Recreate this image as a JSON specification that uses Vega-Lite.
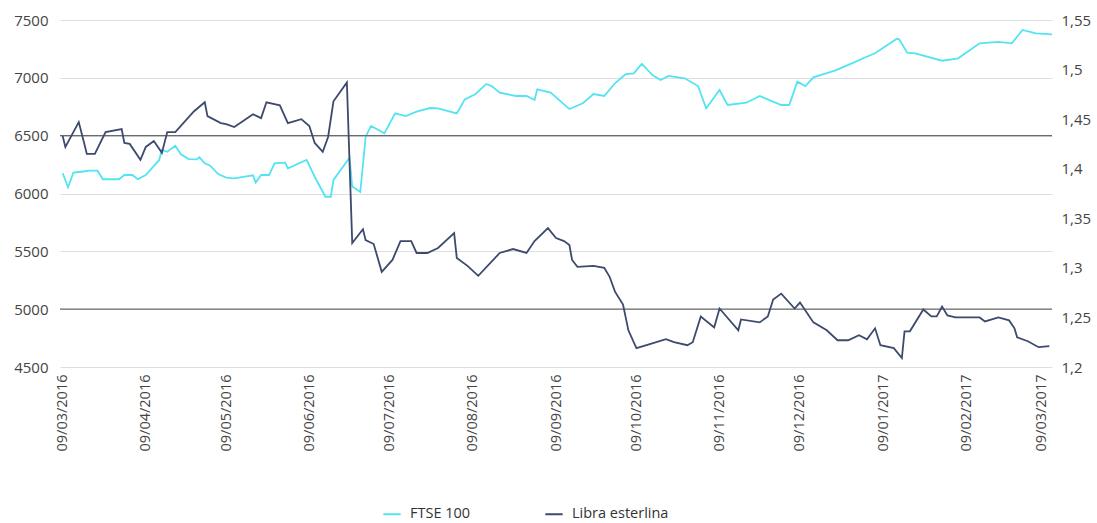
{
  "$schema": "https://vega.github.io/schema/vega-lite/v6.json",
  "width": 992,
  "height": 347,
  "autosize": {"type": "none"},
  "padding": {"left": 60, "top": 20, "right": 45, "bottom": 156},
  "background": "white",
  "config": {
    "font": "Open Sans",
    "view": {"stroke": null},
    "axis": {"labelFont": "Open Sans", "labelColor": "#444444", "domain": false, "ticks": false}
  },
  "datasets": {
    "series": [
      {"d":"2016-03-09","s":"FTSE 100","v":6175},
      {"d":"2016-03-11","s":"FTSE 100","v":6054},
      {"d":"2016-03-13","s":"FTSE 100","v":6180},
      {"d":"2016-03-16","s":"FTSE 100","v":6188},
      {"d":"2016-03-19","s":"FTSE 100","v":6197},
      {"d":"2016-03-22","s":"FTSE 100","v":6197},
      {"d":"2016-03-24","s":"FTSE 100","v":6123},
      {"d":"2016-03-30","s":"FTSE 100","v":6123},
      {"d":"2016-04-01","s":"FTSE 100","v":6160},
      {"d":"2016-04-04","s":"FTSE 100","v":6160},
      {"d":"2016-04-06","s":"FTSE 100","v":6123},
      {"d":"2016-04-09","s":"FTSE 100","v":6160},
      {"d":"2016-04-14","s":"FTSE 100","v":6290},
      {"d":"2016-04-15","s":"FTSE 100","v":6376},
      {"d":"2016-04-17","s":"FTSE 100","v":6361},
      {"d":"2016-04-20","s":"FTSE 100","v":6413},
      {"d":"2016-04-22","s":"FTSE 100","v":6341},
      {"d":"2016-04-25","s":"FTSE 100","v":6298},
      {"d":"2016-04-28","s":"FTSE 100","v":6295},
      {"d":"2016-04-29","s":"FTSE 100","v":6313},
      {"d":"2016-05-01","s":"FTSE 100","v":6261},
      {"d":"2016-05-03","s":"FTSE 100","v":6240},
      {"d":"2016-05-06","s":"FTSE 100","v":6168},
      {"d":"2016-05-09","s":"FTSE 100","v":6137},
      {"d":"2016-05-12","s":"FTSE 100","v":6131},
      {"d":"2016-05-16","s":"FTSE 100","v":6145},
      {"d":"2016-05-19","s":"FTSE 100","v":6157},
      {"d":"2016-05-20","s":"FTSE 100","v":6094},
      {"d":"2016-05-22","s":"FTSE 100","v":6160},
      {"d":"2016-05-25","s":"FTSE 100","v":6160},
      {"d":"2016-05-27","s":"FTSE 100","v":6261},
      {"d":"2016-05-31","s":"FTSE 100","v":6267},
      {"d":"2016-06-01","s":"FTSE 100","v":6218},
      {"d":"2016-06-08","s":"FTSE 100","v":6290},
      {"d":"2016-06-11","s":"FTSE 100","v":6145},
      {"d":"2016-06-15","s":"FTSE 100","v":5972},
      {"d":"2016-06-17","s":"FTSE 100","v":5972},
      {"d":"2016-06-18","s":"FTSE 100","v":6117},
      {"d":"2016-06-24","s":"FTSE 100","v":6310},
      {"d":"2016-06-25","s":"FTSE 100","v":6060},
      {"d":"2016-06-28","s":"FTSE 100","v":6013},
      {"d":"2016-06-30","s":"FTSE 100","v":6491},
      {"d":"2016-07-02","s":"FTSE 100","v":6584},
      {"d":"2016-07-07","s":"FTSE 100","v":6520},
      {"d":"2016-07-11","s":"FTSE 100","v":6693},
      {"d":"2016-07-15","s":"FTSE 100","v":6670},
      {"d":"2016-07-19","s":"FTSE 100","v":6707},
      {"d":"2016-07-24","s":"FTSE 100","v":6739},
      {"d":"2016-07-27","s":"FTSE 100","v":6736},
      {"d":"2016-08-03","s":"FTSE 100","v":6693},
      {"d":"2016-08-06","s":"FTSE 100","v":6814},
      {"d":"2016-08-10","s":"FTSE 100","v":6860},
      {"d":"2016-08-14","s":"FTSE 100","v":6947},
      {"d":"2016-08-16","s":"FTSE 100","v":6929},
      {"d":"2016-08-19","s":"FTSE 100","v":6872},
      {"d":"2016-08-25","s":"FTSE 100","v":6843},
      {"d":"2016-08-29","s":"FTSE 100","v":6843},
      {"d":"2016-09-01","s":"FTSE 100","v":6808},
      {"d":"2016-09-02","s":"FTSE 100","v":6901},
      {"d":"2016-09-07","s":"FTSE 100","v":6872},
      {"d":"2016-09-14","s":"FTSE 100","v":6730},
      {"d":"2016-09-19","s":"FTSE 100","v":6780},
      {"d":"2016-09-23","s":"FTSE 100","v":6860},
      {"d":"2016-09-27","s":"FTSE 100","v":6843},
      {"d":"2016-10-01","s":"FTSE 100","v":6953},
      {"d":"2016-10-05","s":"FTSE 100","v":7033},
      {"d":"2016-10-08","s":"FTSE 100","v":7039},
      {"d":"2016-10-11","s":"FTSE 100","v":7120},
      {"d":"2016-10-15","s":"FTSE 100","v":7024},
      {"d":"2016-10-18","s":"FTSE 100","v":6981},
      {"d":"2016-10-21","s":"FTSE 100","v":7016},
      {"d":"2016-10-27","s":"FTSE 100","v":6996},
      {"d":"2016-11-01","s":"FTSE 100","v":6929},
      {"d":"2016-11-04","s":"FTSE 100","v":6736},
      {"d":"2016-11-09","s":"FTSE 100","v":6895},
      {"d":"2016-11-12","s":"FTSE 100","v":6765},
      {"d":"2016-11-19","s":"FTSE 100","v":6785},
      {"d":"2016-11-24","s":"FTSE 100","v":6843},
      {"d":"2016-12-02","s":"FTSE 100","v":6765},
      {"d":"2016-12-05","s":"FTSE 100","v":6765},
      {"d":"2016-12-08","s":"FTSE 100","v":6967},
      {"d":"2016-12-11","s":"FTSE 100","v":6929},
      {"d":"2016-12-14","s":"FTSE 100","v":7004},
      {"d":"2016-12-22","s":"FTSE 100","v":7062},
      {"d":"2016-12-29","s":"FTSE 100","v":7131},
      {"d":"2017-01-02","s":"FTSE 100","v":7174},
      {"d":"2017-01-06","s":"FTSE 100","v":7212},
      {"d":"2017-01-14","s":"FTSE 100","v":7336},
      {"d":"2017-01-15","s":"FTSE 100","v":7333},
      {"d":"2017-01-18","s":"FTSE 100","v":7217},
      {"d":"2017-01-21","s":"FTSE 100","v":7212},
      {"d":"2017-01-31","s":"FTSE 100","v":7148},
      {"d":"2017-02-06","s":"FTSE 100","v":7169},
      {"d":"2017-02-14","s":"FTSE 100","v":7298},
      {"d":"2017-02-21","s":"FTSE 100","v":7310},
      {"d":"2017-02-26","s":"FTSE 100","v":7298},
      {"d":"2017-03-02","s":"FTSE 100","v":7414},
      {"d":"2017-03-07","s":"FTSE 100","v":7385},
      {"d":"2017-03-13","s":"FTSE 100","v":7376},

      {"d":"2016-03-09","s":"Libra esterlina","v":1.433},
      {"d":"2016-03-10","s":"Libra esterlina","v":1.422},
      {"d":"2016-03-15","s":"Libra esterlina","v":1.447},
      {"d":"2016-03-17","s":"Libra esterlina","v":1.426},
      {"d":"2016-03-18","s":"Libra esterlina","v":1.415},
      {"d":"2016-03-21","s":"Libra esterlina","v":1.415},
      {"d":"2016-03-25","s":"Libra esterlina","v":1.437},
      {"d":"2016-03-31","s":"Libra esterlina","v":1.440},
      {"d":"2016-04-01","s":"Libra esterlina","v":1.426},
      {"d":"2016-04-03","s":"Libra esterlina","v":1.425},
      {"d":"2016-04-07","s":"Libra esterlina","v":1.409},
      {"d":"2016-04-09","s":"Libra esterlina","v":1.422},
      {"d":"2016-04-12","s":"Libra esterlina","v":1.428},
      {"d":"2016-04-15","s":"Libra esterlina","v":1.416},
      {"d":"2016-04-17","s":"Libra esterlina","v":1.437},
      {"d":"2016-04-20","s":"Libra esterlina","v":1.437},
      {"d":"2016-04-27","s":"Libra esterlina","v":1.458},
      {"d":"2016-05-01","s":"Libra esterlina","v":1.467},
      {"d":"2016-05-02","s":"Libra esterlina","v":1.453},
      {"d":"2016-05-07","s":"Libra esterlina","v":1.446},
      {"d":"2016-05-09","s":"Libra esterlina","v":1.445},
      {"d":"2016-05-12","s":"Libra esterlina","v":1.442},
      {"d":"2016-05-19","s":"Libra esterlina","v":1.455},
      {"d":"2016-05-22","s":"Libra esterlina","v":1.451},
      {"d":"2016-05-24","s":"Libra esterlina","v":1.467},
      {"d":"2016-05-29","s":"Libra esterlina","v":1.464},
      {"d":"2016-06-01","s":"Libra esterlina","v":1.446},
      {"d":"2016-06-06","s":"Libra esterlina","v":1.450},
      {"d":"2016-06-09","s":"Libra esterlina","v":1.443},
      {"d":"2016-06-11","s":"Libra esterlina","v":1.426},
      {"d":"2016-06-14","s":"Libra esterlina","v":1.417},
      {"d":"2016-06-16","s":"Libra esterlina","v":1.432},
      {"d":"2016-06-18","s":"Libra esterlina","v":1.468},
      {"d":"2016-06-23","s":"Libra esterlina","v":1.487},
      {"d":"2016-06-25","s":"Libra esterlina","v":1.325},
      {"d":"2016-06-29","s":"Libra esterlina","v":1.339},
      {"d":"2016-06-30","s":"Libra esterlina","v":1.328},
      {"d":"2016-07-03","s":"Libra esterlina","v":1.324},
      {"d":"2016-07-06","s":"Libra esterlina","v":1.296},
      {"d":"2016-07-10","s":"Libra esterlina","v":1.308},
      {"d":"2016-07-13","s":"Libra esterlina","v":1.327},
      {"d":"2016-07-17","s":"Libra esterlina","v":1.327},
      {"d":"2016-07-19","s":"Libra esterlina","v":1.315},
      {"d":"2016-07-23","s":"Libra esterlina","v":1.315},
      {"d":"2016-07-27","s":"Libra esterlina","v":1.320},
      {"d":"2016-08-02","s":"Libra esterlina","v":1.335},
      {"d":"2016-08-03","s":"Libra esterlina","v":1.310},
      {"d":"2016-08-07","s":"Libra esterlina","v":1.302},
      {"d":"2016-08-11","s":"Libra esterlina","v":1.292},
      {"d":"2016-08-19","s":"Libra esterlina","v":1.315},
      {"d":"2016-08-24","s":"Libra esterlina","v":1.319},
      {"d":"2016-08-29","s":"Libra esterlina","v":1.315},
      {"d":"2016-09-01","s":"Libra esterlina","v":1.327},
      {"d":"2016-09-06","s":"Libra esterlina","v":1.340},
      {"d":"2016-09-09","s":"Libra esterlina","v":1.330},
      {"d":"2016-09-12","s":"Libra esterlina","v":1.327},
      {"d":"2016-09-14","s":"Libra esterlina","v":1.323},
      {"d":"2016-09-15","s":"Libra esterlina","v":1.308},
      {"d":"2016-09-17","s":"Libra esterlina","v":1.301},
      {"d":"2016-09-23","s":"Libra esterlina","v":1.302},
      {"d":"2016-09-27","s":"Libra esterlina","v":1.300},
      {"d":"2016-09-29","s":"Libra esterlina","v":1.291},
      {"d":"2016-10-01","s":"Libra esterlina","v":1.276},
      {"d":"2016-10-04","s":"Libra esterlina","v":1.263},
      {"d":"2016-10-06","s":"Libra esterlina","v":1.237},
      {"d":"2016-10-09","s":"Libra esterlina","v":1.219},
      {"d":"2016-10-14","s":"Libra esterlina","v":1.223},
      {"d":"2016-10-20","s":"Libra esterlina","v":1.228},
      {"d":"2016-10-23","s":"Libra esterlina","v":1.225},
      {"d":"2016-10-28","s":"Libra esterlina","v":1.222},
      {"d":"2016-10-30","s":"Libra esterlina","v":1.225},
      {"d":"2016-11-02","s":"Libra esterlina","v":1.251},
      {"d":"2016-11-07","s":"Libra esterlina","v":1.240},
      {"d":"2016-11-09","s":"Libra esterlina","v":1.259},
      {"d":"2016-11-16","s":"Libra esterlina","v":1.237},
      {"d":"2016-11-17","s":"Libra esterlina","v":1.248},
      {"d":"2016-11-24","s":"Libra esterlina","v":1.245},
      {"d":"2016-11-27","s":"Libra esterlina","v":1.251},
      {"d":"2016-11-29","s":"Libra esterlina","v":1.268},
      {"d":"2016-12-02","s":"Libra esterlina","v":1.274},
      {"d":"2016-12-07","s":"Libra esterlina","v":1.259},
      {"d":"2016-12-09","s":"Libra esterlina","v":1.265},
      {"d":"2016-12-14","s":"Libra esterlina","v":1.245},
      {"d":"2016-12-19","s":"Libra esterlina","v":1.237},
      {"d":"2016-12-23","s":"Libra esterlina","v":1.227},
      {"d":"2016-12-27","s":"Libra esterlina","v":1.227},
      {"d":"2016-12-31","s":"Libra esterlina","v":1.232},
      {"d":"2017-01-03","s":"Libra esterlina","v":1.228},
      {"d":"2017-01-06","s":"Libra esterlina","v":1.239},
      {"d":"2017-01-08","s":"Libra esterlina","v":1.222},
      {"d":"2017-01-13","s":"Libra esterlina","v":1.219},
      {"d":"2017-01-16","s":"Libra esterlina","v":1.209},
      {"d":"2017-01-17","s":"Libra esterlina","v":1.236},
      {"d":"2017-01-19","s":"Libra esterlina","v":1.236},
      {"d":"2017-01-24","s":"Libra esterlina","v":1.258},
      {"d":"2017-01-27","s":"Libra esterlina","v":1.251},
      {"d":"2017-01-29","s":"Libra esterlina","v":1.251},
      {"d":"2017-01-31","s":"Libra esterlina","v":1.261},
      {"d":"2017-02-02","s":"Libra esterlina","v":1.252},
      {"d":"2017-02-05","s":"Libra esterlina","v":1.250},
      {"d":"2017-02-14","s":"Libra esterlina","v":1.250},
      {"d":"2017-02-16","s":"Libra esterlina","v":1.246},
      {"d":"2017-02-21","s":"Libra esterlina","v":1.250},
      {"d":"2017-02-25","s":"Libra esterlina","v":1.247},
      {"d":"2017-02-27","s":"Libra esterlina","v":1.239},
      {"d":"2017-02-28","s":"Libra esterlina","v":1.230},
      {"d":"2017-03-04","s":"Libra esterlina","v":1.226},
      {"d":"2017-03-08","s":"Libra esterlina","v":1.220},
      {"d":"2017-03-12","s":"Libra esterlina","v":1.221}
    ],
    "refs": [{"r": 6500}, {"r": 5000}]
  },
  "layer": [
    {
      "data": {"name": "series"},
      "transform": [{"filter": "datum.s === 'FTSE 100'"}],
      "mark": {"type": "line", "strokeWidth": 1.8, "interpolate": "linear"},
      "encoding": {
        "x": {
          "field": "d",
          "type": "temporal",
          "scale": {"type": "utc", "domain": [{"year": 2016, "month": 3, "date": 8, "utc": true}, {"year": 2017, "month": 3, "date": 13, "utc": true}]},
          "axis": {
            "title": null,
            "format": "%d/%m/%Y",
            "labelAngle": -90,
            "labelFontSize": 14.5,
            "labelPadding": 7,
            "grid": false,
            "values": [
              {"year": 2016, "month": 3, "date": 9, "utc": true},
              {"year": 2016, "month": 4, "date": 9, "utc": true},
              {"year": 2016, "month": 5, "date": 9, "utc": true},
              {"year": 2016, "month": 6, "date": 9, "utc": true},
              {"year": 2016, "month": 7, "date": 9, "utc": true},
              {"year": 2016, "month": 8, "date": 9, "utc": true},
              {"year": 2016, "month": 9, "date": 9, "utc": true},
              {"year": 2016, "month": 10, "date": 9, "utc": true},
              {"year": 2016, "month": 11, "date": 9, "utc": true},
              {"year": 2016, "month": 12, "date": 9, "utc": true},
              {"year": 2017, "month": 1, "date": 9, "utc": true},
              {"year": 2017, "month": 2, "date": 9, "utc": true},
              {"year": 2017, "month": 3, "date": 9, "utc": true}
            ]
          }
        },
        "y": {
          "field": "v",
          "type": "quantitative",
          "scale": {"domain": [4500, 7500], "zero": false, "nice": false},
          "axis": {
            "orient": "left",
            "title": null,
            "values": [4500, 5000, 5500, 6000, 6500, 7000, 7500],
            "format": "d",
            "labelFontSize": 15,
            "labelPadding": 12,
            "grid": true,
            "gridColor": "#dedede",
            "gridWidth": 1.2
          }
        },
        "color": {
          "field": "s",
          "type": "nominal",
          "scale": {"domain": ["FTSE 100", "Libra esterlina"], "range": ["#52E4F2", "#3D4A6E"]},
          "legend": {
            "title": null,
            "orient": "none",
            "direction": "horizontal",
            "legendX": 322,
            "legendY": 484,
            "symbolType": "stroke",
            "symbolStrokeWidth": 2,
            "symbolSize": 300,
            "labelFontSize": 14.5,
            "labelColor": "#333333",
            "labelFont": "Open Sans",
            "columnPadding": 70,
            "labelOffset": 8
          }
        }
      }
    },
    {
      "data": {"name": "refs"},
      "mark": {"type": "rule", "color": "#6b6b6b", "strokeWidth": 1.3},
      "encoding": {
        "y": {"field": "r", "type": "quantitative", "scale": {"domain": [4500, 7500], "zero": false, "nice": false}, "axis": null}
      }
    },
    {
      "data": {"name": "series"},
      "transform": [{"filter": "datum.s === 'Libra esterlina'"}],
      "mark": {"type": "line", "strokeWidth": 1.8, "interpolate": "linear"},
      "encoding": {
        "x": {"field": "d", "type": "temporal"},
        "y": {
          "field": "v",
          "type": "quantitative",
          "scale": {"domain": [1.2, 1.55], "zero": false, "nice": false},
          "axis": {
            "orient": "right",
            "title": null,
            "values": [1.2, 1.25, 1.3, 1.35, 1.4, 1.45, 1.5, 1.55],
            "labelExpr": "replace(format(datum.value, '.2~f'), '.', ',')",
            "labelFontSize": 15,
            "labelPadding": 9,
            "grid": false
          }
        },
        "color": {"field": "s", "type": "nominal", "scale": {"domain": ["FTSE 100", "Libra esterlina"], "range": ["#52E4F2", "#3D4A6E"]}}
      }
    }
  ],
  "resolve": {"scale": {"y": "independent"}}
}
